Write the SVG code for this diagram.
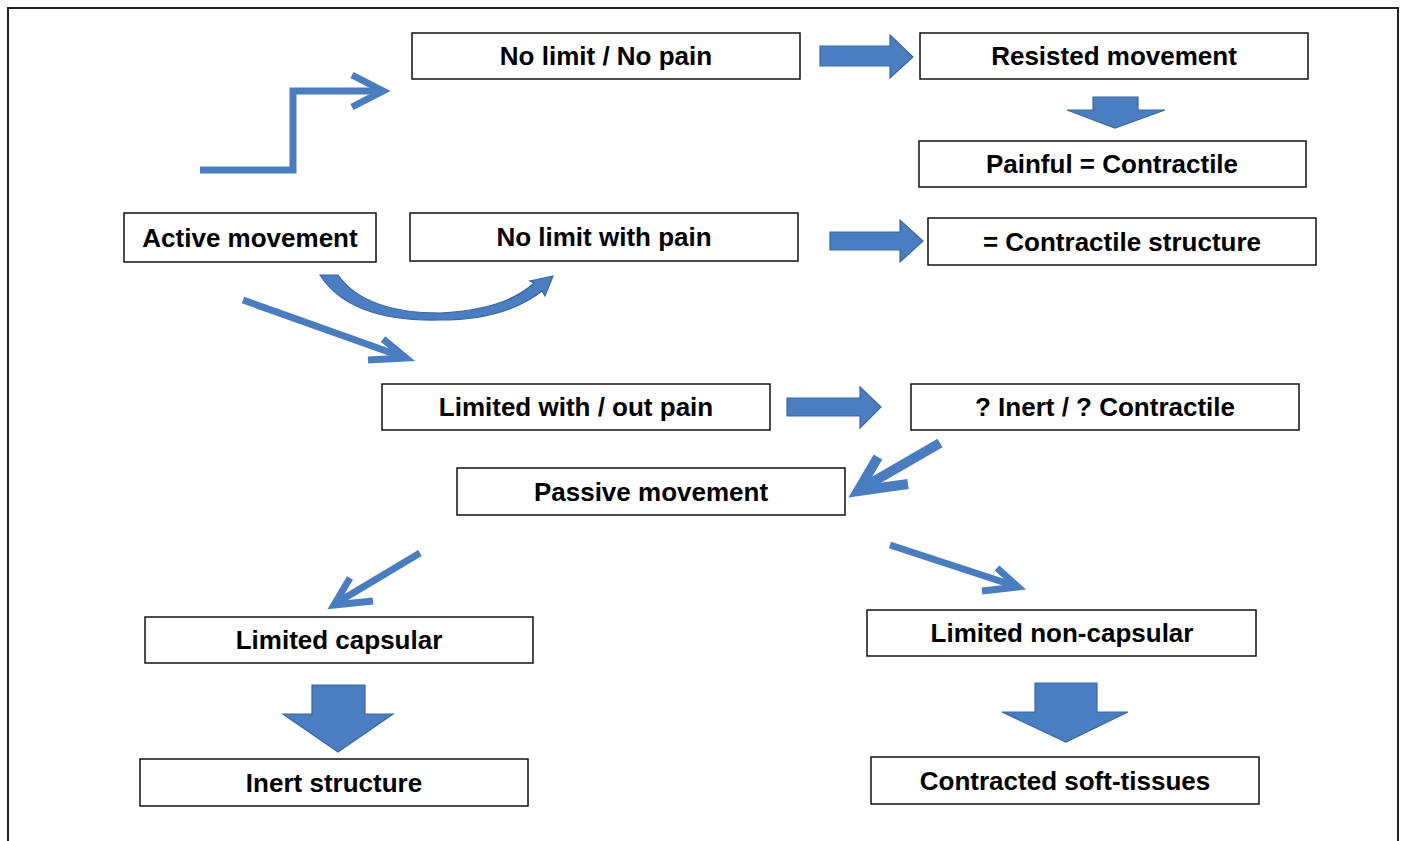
<svg xmlns="http://www.w3.org/2000/svg" width="1405" height="841" viewBox="0 0 1405 841">
<style>
.box rect{fill:#fff;stroke:#111;stroke-width:1.5}
.box text{font-family:"Liberation Sans",Arial,sans-serif;font-weight:bold;font-size:26px;fill:#000;text-anchor:middle}
.line{fill:none;stroke:#4a7cc0;stroke-width:7;stroke-linecap:butt;stroke-linejoin:miter}
.block{fill:#4a7ec0;stroke:#3a67a3;stroke-width:1.2}
</style>
<rect width="1405" height="841" fill="#fff"/>
<path d="M8,841 V8 H1398 V841" fill="none" stroke="#222" stroke-width="2"/>
<g id="connectors">
<polyline class="line" points="200,170 293,170 293,91 381,91"/>
<polyline class="line" points="352,75 383,91 352,107"/>
<line class="line" x1="243" y1="300" x2="403" y2="357"/>
<polyline class="line" points="383,339 406,358 368,360"/>
<path class="block" d="M320,275 L338,275 Q365,313 440,313 Q505,310 534,283 L530,281 L553,276 L545,296 L542,291 Q505,320 440,320 Q350,322 320,275 Z"/>
<polygon class="block" points="820,46 890,46 890,35 913,57 890,78 890,66 820,66"/>
<polygon class="block" points="1093,97 1138,97 1138,110 1165,110 1115,128 1067,110 1093,110"/>
<polygon class="block" points="830,232 900,232 900,220 923,241 900,262 900,250 830,250"/>
<polygon class="block" points="787,398 860,398 860,387 881,407 860,428 860,416 787,416"/>
<line class="line" style="stroke-width:10" x1="940" y1="443" x2="864" y2="487"/>
<polyline class="line" style="stroke-width:10" points="878,457 858,491 908,484"/>
<line class="line" x1="890" y1="545" x2="1012" y2="585"/>
<polyline class="line" points="997,568 1018,587 982,591"/>
<line class="line" x1="420" y1="553" x2="338" y2="602"/>
<polyline class="line" points="350,578 334,605 373,601"/>
<polygon class="block" points="312,685 365,685 365,714 393,714 338,752 283,714 312,714"/>
<polygon class="block" points="1035,683 1097,683 1097,712 1128,712 1066,742 1002,712 1035,712"/>
</g>
<g id="n1" class="box"><rect x="412" y="33" width="388" height="46"/><text x="606" y="65">No limit / No pain</text></g>
<g id="n2" class="box"><rect x="920" y="33" width="388" height="46"/><text x="1114" y="65">Resisted movement</text></g>
<g id="n3" class="box"><rect x="919" y="141" width="387" height="46"/><text x="1112" y="173">Painful = Contractile</text></g>
<g id="n4" class="box"><rect x="124" y="213" width="252" height="49"/><text x="250" y="247">Active movement</text></g>
<g id="n5" class="box"><rect x="410" y="213" width="388" height="48"/><text x="604" y="246">No limit with pain</text></g>
<g id="n6" class="box"><rect x="928" y="218" width="388" height="47"/><text x="1122" y="251">= Contractile structure</text></g>
<g id="n7" class="box"><rect x="382" y="384" width="388" height="46"/><text x="576" y="416">Limited with / out pain</text></g>
<g id="n8" class="box"><rect x="911" y="384" width="388" height="46"/><text x="1105" y="416">? Inert / ? Contractile</text></g>
<g id="n9" class="box"><rect x="457" y="468" width="388" height="47"/><text x="651" y="501">Passive movement</text></g>
<g id="n10" class="box"><rect x="145" y="617" width="388" height="46"/><text x="339" y="649">Limited capsular</text></g>
<g id="n11" class="box"><rect x="867" y="610" width="389" height="46"/><text x="1062" y="642">Limited non-capsular</text></g>
<g id="n12" class="box"><rect x="140" y="759" width="388" height="47"/><text x="334" y="792">Inert structure</text></g>
<g id="n13" class="box"><rect x="871" y="757" width="388" height="47"/><text x="1065" y="790">Contracted soft-tissues</text></g>
</svg>
